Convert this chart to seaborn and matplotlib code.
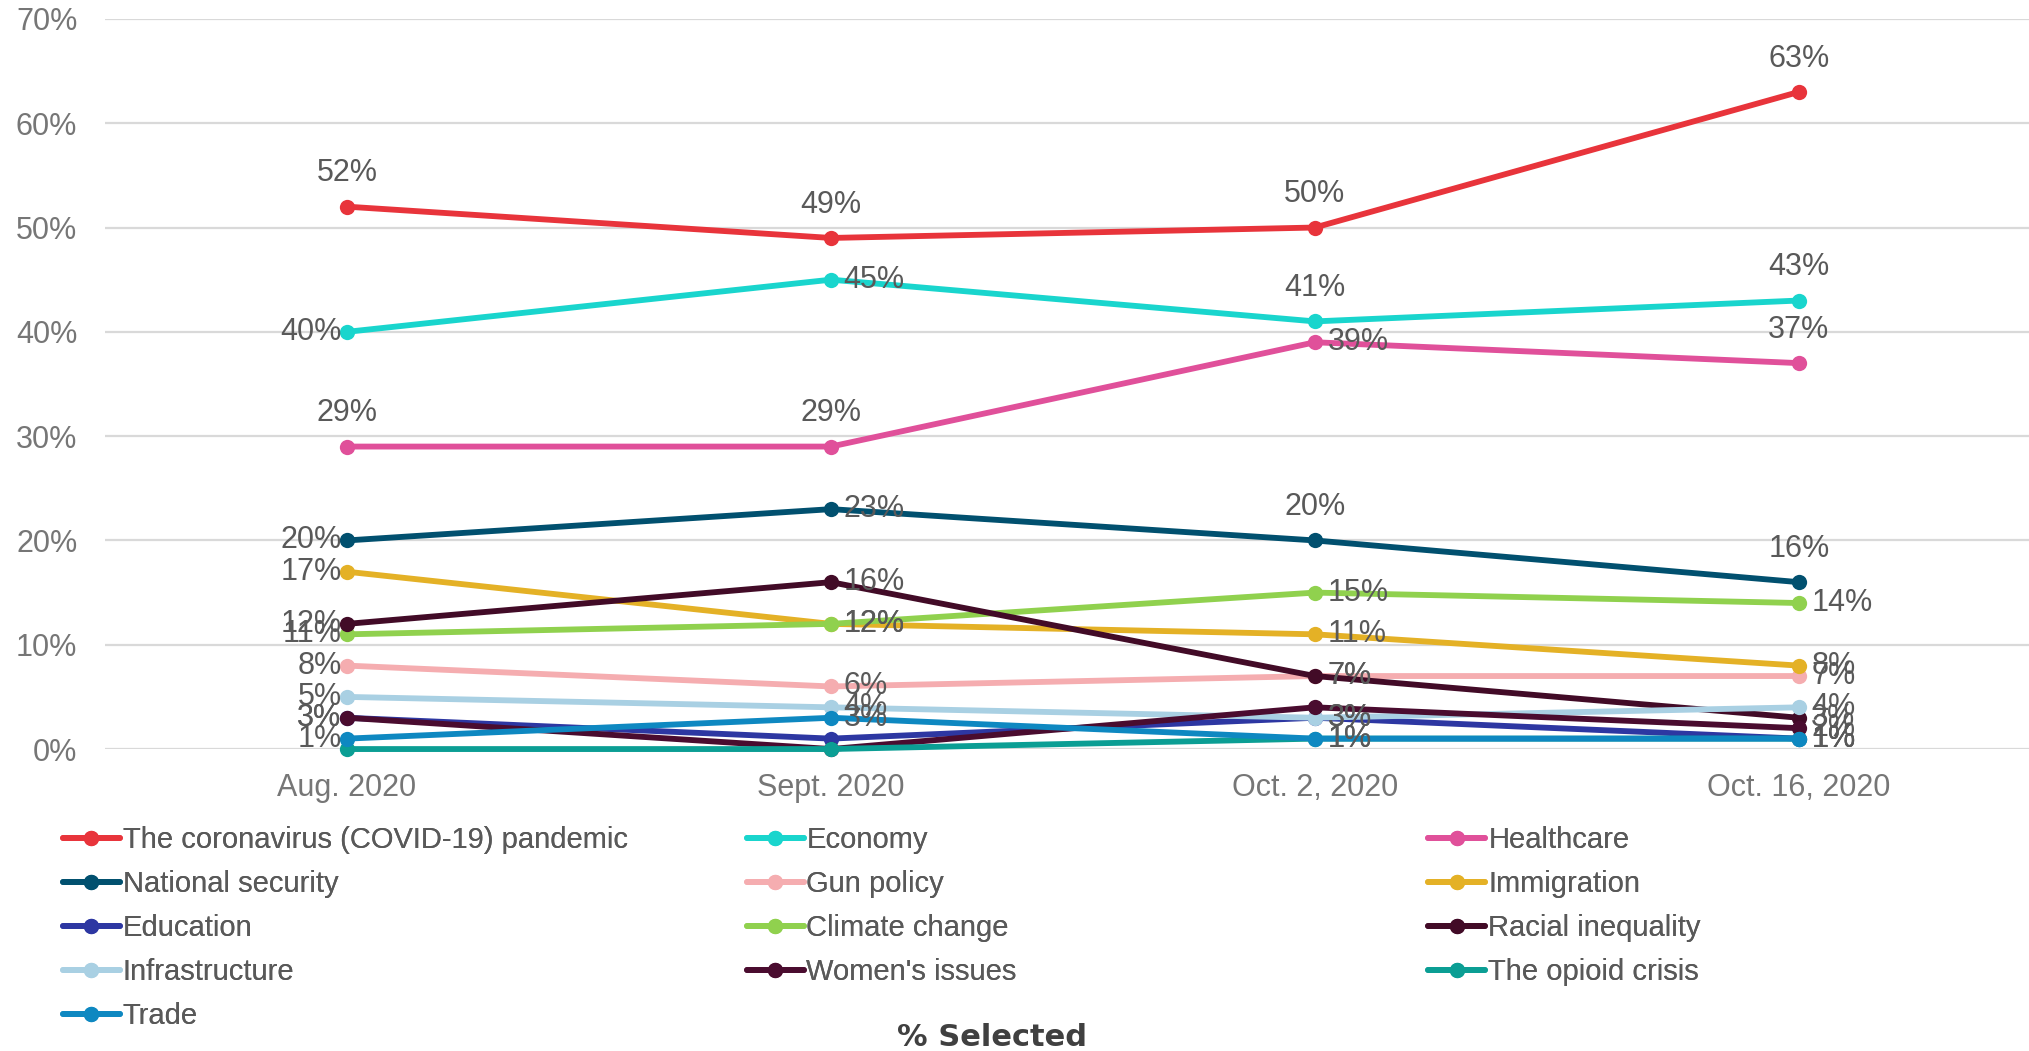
import matplotlib
matplotlib.use('Agg')
import matplotlib.pyplot as plt
from matplotlib.lines import Line2D
import seaborn as sns
import pandas as pd

# Data
periods = ['Aug. 2020', 'Sept. 2020', 'Oct. 2, 2020', 'Oct. 16, 2020']

issues = ['The coronavirus (COVID-19) pandemic', 'Economy', 'Healthcare',
          'National security', 'Gun policy', 'Immigration',
          'Education', 'Climate change', 'Racial inequality',
          'Infrastructure', "Women's issues", 'The opioid crisis', 'Trade']

covid = [52, 49, 50, 63]
economy = [40, 45, 41, 43]
healthcare = [29, 29, 39, 37]
national_security = [20, 23, 20, 16]
gun_policy = [8, 6, 7, 7]
immigration = [17, 12, 11, 8]
education = [3, 1, 3, 1]
climate = [11, 12, 15, 14]
racial = [12, 16, 7, 3]
infrastructure = [5, 4, 3, 4]
womens = [3, 0, 4, 2]
opioid = [0, 0, 1, 1]
trade = [1, 3, 1, 1]

series = [covid, economy, healthcare, national_security, gun_policy, immigration,
          education, climate, racial, infrastructure, womens, opioid, trade]

colors = ['#E8343B', '#19D5CD', '#E0509A', '#01506F', '#F5ADB0', '#E4B126',
          '#2D37A2', '#90D14E', '#420B27', '#A9D0E3', '#4A0C2F', '#0B9E94', '#0E88C1']

# label placement per point: a = above, l = left, r = right, '' = hidden
label_pos = [['a', 'a', 'a', 'a'],
             ['l', 'r', 'a', 'a'],
             ['a', 'a', 'r', 'a'],
             ['l', 'r', 'a', 'a'],
             ['l', 'r', 'r', 'r'],
             ['l', 'r', 'r', 'r'],
             ['l', '', 'r', 'r'],
             ['l', 'r', 'r', 'r'],
             ['l', 'r', 'r', 'r'],
             ['l', 'r', 'r', 'r'],
             ['l', '', '', 'r'],
             ['', '', 'r', 'r'],
             ['l', 'r', 'r', 'r']]

rows = []
for name, vals in zip(issues, series):
    for p, v in zip(periods, vals):
        rows.append({'period': p, 'issue': name, 'value': v})
df = pd.DataFrame(rows)
palette = dict(zip(issues, colors))

sns.set_style('white')
plt.rcParams['font.family'] = ['Liberation Sans', 'DejaVu Sans']

fig = plt.figure(figsize=(20.29, 10.51), dpi=100)
ax = fig.add_axes([0.0518, 0.2873, 0.954, 0.6947])

sns.lineplot(data=df, x='period', y='value', hue='issue', hue_order=issues,
             palette=palette, marker='o', markersize=11, markeredgewidth=0,
             linewidth=4.2, sort=False, legend=False, clip_on=False, ax=ax)

ax.set_xlim(-0.5, 3.5)
ax.set_ylim(0, 70)
ax.set_yticks(range(0, 71, 10))
ax.set_yticklabels([f'{t}%' for t in range(0, 71, 10)])
for s in ax.spines.values():
    s.set_visible(False)
ax.yaxis.grid(True, color='#D9D9D9', linewidth=1.6)
ax.set_axisbelow(True)
ax.tick_params(axis='both', length=0, labelsize=22, labelcolor='#767676')
ax.tick_params(axis='y', pad=20)
ax.tick_params(axis='x', pad=17)
ax.set_xlabel('')
ax.set_ylabel('')

# data labels
offsets = {'a': ((0, 24), 'center', 'center'),
           'l': ((-4, 0), 'right', 'center'),
           'r': ((9, 0), 'left', 'center')}
for vals, places in zip(series, label_pos):
    for i, (v, pl) in enumerate(zip(vals, places)):
        if not pl:
            continue
        off, ha, va = offsets[pl]
        ax.annotate(f'{v}%', (i, v), xytext=off, textcoords='offset points',
                    ha=ha, va=va, fontsize=22, color='#595959', annotation_clip=False)

# legend: three fixed-width columns, filled row by row
col_x = [0.031, 0.368, 0.704]
for c in range(3):
    idx = list(range(c, len(issues), 3))
    handles = [Line2D([], [], color=colors[i], linewidth=4.2, marker='o',
                      markersize=11, markeredgewidth=0) for i in idx]
    leg = fig.legend(handles, [issues[i] for i in idx], loc='upper left',
                     bbox_to_anchor=(col_x[c], 0.214), frameon=False,
                     fontsize=21, handlelength=1.95, handletextpad=0.1,
                     labelspacing=0.55, borderaxespad=0, borderpad=0,
                     labelcolor='#595959')
    fig.add_artist(leg)

fig.text(0.489, 0.0124, '% Selected', ha='center', va='center', fontsize=22,
         fontweight='bold', color='#404040', family='DejaVu Sans')

fig.savefig('out.png', dpi=100)
